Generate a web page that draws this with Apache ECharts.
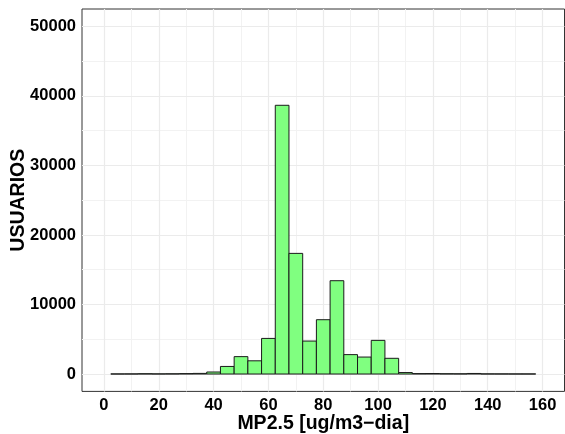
<!DOCTYPE html>
<html>
<head>
<meta charset="utf-8">
<script src="https://cdn.jsdelivr.net/npm/echarts@6/dist/echarts.min.js"></script>
<style>
  html, body { margin: 0; padding: 0; background: #fff; }
  #chart { width: 565px; height: 434px; }
</style>
</head>
<body>
<div id="chart"></div>
<script>
// Histogram of daily PM2.5 exposure per user (bin width 5 ug/m3)
const binCenters = [5, 10, 15, 20, 25, 30, 35, 40, 45, 50, 55, 60, 65, 70, 75, 80,
                    85, 90, 95, 100, 105, 110, 115, 120, 125, 130, 135, 140, 145, 150, 155];
const userCounts = [10, 15, 40, 20, 30, 60, 90, 290, 1090, 2500, 1900, 5120, 38650, 17350, 4740, 7810,
                    13420, 2790, 2440, 4840, 2260, 210, 60, 70, 40, 30, 80, 20, 15, 10, 10];
const binWidth = 5;

const xTicks = [0, 20, 40, 60, 80, 100, 120, 140, 160];
const xMinor = [10, 30, 50, 70, 90, 110, 130, 150];
const yTicks = [0, 10000, 20000, 30000, 40000, 50000];
const yMinor = [5000, 15000, 25000, 35000, 45000];

const FONT = '"Liberation Sans", Arial, sans-serif';

const chart = echarts.init(document.getElementById('chart'), null, { renderer: 'canvas' });

const gridLines = []
  .concat(xMinor.map(v => ({ xAxis: v, lineStyle: { color: '#F2F2F2', width: 1, type: 'solid' } })))
  .concat(yMinor.map(v => ({ yAxis: v, lineStyle: { color: '#F2F2F2', width: 1, type: 'solid' } })))
  .concat(xTicks.map(v => ({ xAxis: v, lineStyle: { color: '#EBEBEB', width: 1.2, type: 'solid' } })))
  .concat(yTicks.map(v => ({ yAxis: v, lineStyle: { color: '#EBEBEB', width: 1.2, type: 'solid' } })));

chart.setOption({
  animation: false,
  backgroundColor: '#ffffff',
  grid: {
    left: 82, right: 0.5, top: 9, bottom: 42.6,
    show: true, borderColor: '#333333', borderWidth: 1, backgroundColor: '#ffffff',
    containLabel: false, outerBoundsMode: 'none'
  },
  xAxis: {
    type: 'value', min: -8, max: 168,
    name: 'MP2.5 [ug/m3\u2212dia]', nameLocation: 'middle', nameGap: 22, nameMoveOverlap: false,
    nameTextStyle: { fontFamily: FONT, fontWeight: 'bold', fontSize: 19.5, color: '#000' },
    axisLine: { show: false },
    axisTick: { show: true, length: 4, customValues: xTicks, lineStyle: { color: '#333333', width: 1 } },
    axisLabel: { customValues: xTicks, margin: 5.5, formatter: v => String(v),
                 fontFamily: FONT, fontWeight: 'bold', fontSize: 16.5, color: '#000' },
    splitLine: { show: false }
  },
  yAxis: {
    type: 'value', min: -2500, max: 52500,
    name: 'USUARIOS', nameLocation: 'middle', nameGap: 53, nameRotate: 90, nameMoveOverlap: false,
    nameTextStyle: { fontFamily: FONT, fontWeight: 'bold', fontSize: 19.5, color: '#000' },
    axisLine: { show: false },
    axisTick: { show: true, length: 4, customValues: yTicks, lineStyle: { color: '#333333', width: 1 } },
    axisLabel: { customValues: yTicks, margin: 6, formatter: v => String(v),
                 fontFamily: FONT, fontWeight: 'bold', fontSize: 16.5, color: '#000' },
    splitLine: { show: false }
  },
  series: [
    {
      type: 'custom',
      z: 3,
      data: binCenters.map((c, i) => [c, userCounts[i]]),
      renderItem: function (params, api) {
        const c = api.value(0);
        const n = api.value(1);
        const p0 = api.coord([c - binWidth / 2, n]);
        const p1 = api.coord([c + binWidth / 2, 0]);
        return {
          type: 'rect',
          shape: { x: p0[0], y: p0[1], width: p1[0] - p0[0], height: p1[1] - p0[1] },
          style: { fill: '#80FF80', stroke: '#1a1a1a', lineWidth: 1 }
        };
      },
      markLine: {
        silent: true, symbol: 'none', z: 1,
        label: { show: false },
        emphasis: { disabled: true },
        data: gridLines
      }
    }
  ]
});
</script>
</body>
</html>
